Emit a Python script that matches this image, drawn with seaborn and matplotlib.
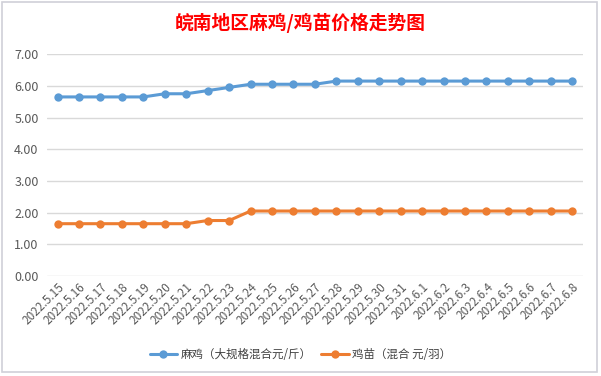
import pandas as pd
import seaborn as sns
import matplotlib.pyplot as plt
from matplotlib.patches import Rectangle

# data
dates = [
    "2022.5.15", "2022.5.16", "2022.5.17", "2022.5.18", "2022.5.19",
    "2022.5.20", "2022.5.21", "2022.5.22", "2022.5.23", "2022.5.24",
    "2022.5.25", "2022.5.26", "2022.5.27", "2022.5.28", "2022.5.29",
    "2022.5.30", "2022.5.31", "2022.6.1", "2022.6.2", "2022.6.3",
    "2022.6.4", "2022.6.5", "2022.6.6", "2022.6.7", "2022.6.8",
]
ma_ji = [5.65, 5.65, 5.65, 5.65, 5.65, 5.75, 5.75, 5.85, 5.95, 6.05,
         6.05, 6.05, 6.05, 6.15, 6.15, 6.15, 6.15, 6.15, 6.15, 6.15,
         6.15, 6.15, 6.15, 6.15, 6.15]
ji_miao = [1.65, 1.65, 1.65, 1.65, 1.65, 1.65, 1.65, 1.75, 1.75, 2.05,
           2.05, 2.05, 2.05, 2.05, 2.05, 2.05, 2.05, 2.05, 2.05, 2.05,
           2.05, 2.05, 2.05, 2.05, 2.05]
series_names = ["麻鸡（大规格混合元/斤）", "鸡苗（混合 元/羽）"]
colors = ["#5B9BD5", "#ED7D31"]

df = pd.DataFrame({"date": dates, series_names[0]: ma_ji, series_names[1]: ji_miao})
long_df = df.melt(id_vars="date", var_name="series", value_name="price")

sns.set_style("white")
plt.rcParams["font.family"] = ["Noto Sans CJK SC", "DejaVu Sans"]

fig = plt.figure(figsize=(6.01, 3.76), dpi=100)
ax = fig.add_axes([0.078, 0.266, 0.892, 0.590])

sns.lineplot(
    data=long_df,
    x="date",
    y="price",
    hue="series",
    palette=colors,
    marker="o",
    markersize=6,
    markeredgewidth=0,
    linewidth=2.2,
    sort=False,
    ax=ax,
)

ax.set_ylim(0, 7)
ax.set_xlim(-0.5, len(dates) - 0.5)
ax.set_yticks(range(0, 8))
ax.set_yticklabels(["%.2f" % v for v in range(0, 8)], color="#595959", fontsize=9)
ax.yaxis.grid(True, color="#D9D9D9", linewidth=1)
ax.set_axisbelow(True)
ax.tick_params(axis="both", length=0, pad=6)
ax.set_xticks(range(len(dates)))
ax.set_xticklabels(dates, rotation=45, ha="right", rotation_mode="anchor",
                   color="#595959", fontsize=8.5)
ax.tick_params(axis="x", pad=3)
for s in ax.spines.values():
    s.set_visible(False)
ax.set_xlabel("")
ax.set_ylabel("")

ax.legend(loc="center", bbox_to_anchor=(0.473, -0.352), ncol=2, frameon=False,
          fontsize=8.3, handlelength=2.4, columnspacing=0.8, handletextpad=0.3,
          labelcolor="#404040")

fig.text(0.5, 0.94, "皖南地区麻鸡/鸡苗价格走势图", ha="center", va="center",
         color="#FF0000", fontsize=13.5, fontweight="bold")

fig.patches.append(Rectangle((2 / 601, 4 / 376), 595 / 601, 370 / 376,
                             transform=fig.transFigure, fill=False,
                             edgecolor="#D0D0D8", linewidth=1.2))

fig.savefig("out.png", dpi=100)
